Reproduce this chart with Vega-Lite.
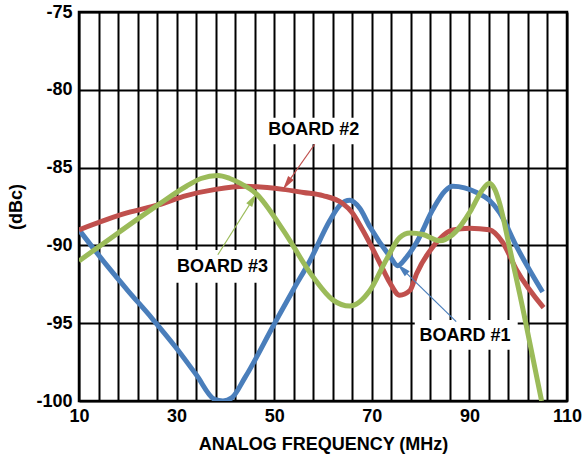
{
  "$schema": "https://vega.github.io/schema/vega-lite/v6.json",
  "width": 488,
  "height": 389,
  "autosize": "none",
  "padding": {"left": 79, "top": 12, "right": 20, "bottom": 61},
  "background": "white",
  "config": {
    "view": {"stroke": "black", "strokeWidth": 2.5},
    "font": "Liberation Sans",
    "axis": {
      "domain": false,
      "ticks": false,
      "grid": true,
      "gridColor": "black",
      "gridOpacity": 1,
      "gridWidth": 2,
      "labelFont": "Liberation Sans",
      "labelFontWeight": "bold",
      "labelFontSize": 18,
      "labelColor": "black",
      "titleFont": "Liberation Sans",
      "titleFontWeight": "bold",
      "titleFontSize": 18,
      "titleColor": "black"
    }
  },
  "datasets": {
    "curves": [
      {"board": "BOARD #1", "f": 10, "v": -89.0},
      {"board": "BOARD #1", "f": 16, "v": -91.4},
      {"board": "BOARD #1", "f": 20, "v": -92.9},
      {"board": "BOARD #1", "f": 25, "v": -94.7},
      {"board": "BOARD #1", "f": 29.7, "v": -96.5},
      {"board": "BOARD #1", "f": 34, "v": -98.3},
      {"board": "BOARD #1", "f": 37.8, "v": -99.9},
      {"board": "BOARD #1", "f": 39.5, "v": -100.0},
      {"board": "BOARD #1", "f": 41.3, "v": -99.8},
      {"board": "BOARD #1", "f": 44, "v": -98.5},
      {"board": "BOARD #1", "f": 50.1, "v": -95.0},
      {"board": "BOARD #1", "f": 54, "v": -92.8},
      {"board": "BOARD #1", "f": 57.3, "v": -91.0},
      {"board": "BOARD #1", "f": 61.4, "v": -88.4},
      {"board": "BOARD #1", "f": 63.5, "v": -87.4},
      {"board": "BOARD #1", "f": 65.5, "v": -87.1},
      {"board": "BOARD #1", "f": 67.5, "v": -87.6},
      {"board": "BOARD #1", "f": 69.6, "v": -88.8},
      {"board": "BOARD #1", "f": 73.7, "v": -90.7},
      {"board": "BOARD #1", "f": 75.3, "v": -91.3},
      {"board": "BOARD #1", "f": 77, "v": -90.8},
      {"board": "BOARD #1", "f": 79.2, "v": -89.8},
      {"board": "BOARD #1", "f": 82.5, "v": -87.7},
      {"board": "BOARD #1", "f": 85, "v": -86.5},
      {"board": "BOARD #1", "f": 86.6, "v": -86.2},
      {"board": "BOARD #1", "f": 89, "v": -86.3},
      {"board": "BOARD #1", "f": 91.5, "v": -86.6},
      {"board": "BOARD #1", "f": 94.1, "v": -87.1},
      {"board": "BOARD #1", "f": 96.2, "v": -87.9},
      {"board": "BOARD #1", "f": 99.7, "v": -90.1},
      {"board": "BOARD #1", "f": 105, "v": -93.0},
      {"board": "BOARD #2", "f": 10, "v": -89.0},
      {"board": "BOARD #2", "f": 20, "v": -87.9},
      {"board": "BOARD #2", "f": 26.2, "v": -87.4},
      {"board": "BOARD #2", "f": 32, "v": -86.8},
      {"board": "BOARD #2", "f": 38, "v": -86.4},
      {"board": "BOARD #2", "f": 44, "v": -86.2},
      {"board": "BOARD #2", "f": 51.8, "v": -86.4},
      {"board": "BOARD #2", "f": 56, "v": -86.6},
      {"board": "BOARD #2", "f": 60, "v": -86.8},
      {"board": "BOARD #2", "f": 64, "v": -87.3},
      {"board": "BOARD #2", "f": 66, "v": -87.9},
      {"board": "BOARD #2", "f": 68.1, "v": -89.0},
      {"board": "BOARD #2", "f": 71.6, "v": -91.1},
      {"board": "BOARD #2", "f": 73.7, "v": -92.4},
      {"board": "BOARD #2", "f": 75.7, "v": -93.2},
      {"board": "BOARD #2", "f": 77.8, "v": -92.9},
      {"board": "BOARD #2", "f": 79.2, "v": -91.8},
      {"board": "BOARD #2", "f": 82.5, "v": -90.1},
      {"board": "BOARD #2", "f": 86.6, "v": -89.0},
      {"board": "BOARD #2", "f": 90, "v": -88.9},
      {"board": "BOARD #2", "f": 94.1, "v": -89.0},
      {"board": "BOARD #2", "f": 96.8, "v": -89.8},
      {"board": "BOARD #2", "f": 99.7, "v": -91.6},
      {"board": "BOARD #2", "f": 105.2, "v": -94.0},
      {"board": "BOARD #3", "f": 10, "v": -91.0},
      {"board": "BOARD #3", "f": 18, "v": -89.2},
      {"board": "BOARD #3", "f": 26.2, "v": -87.4},
      {"board": "BOARD #3", "f": 32, "v": -86.2},
      {"board": "BOARD #3", "f": 35, "v": -85.7},
      {"board": "BOARD #3", "f": 38.5, "v": -85.5},
      {"board": "BOARD #3", "f": 40.9, "v": -85.7},
      {"board": "BOARD #3", "f": 43, "v": -86.0},
      {"board": "BOARD #3", "f": 46.4, "v": -86.7},
      {"board": "BOARD #3", "f": 51.8, "v": -89.0},
      {"board": "BOARD #3", "f": 57.9, "v": -92.0},
      {"board": "BOARD #3", "f": 62, "v": -93.5},
      {"board": "BOARD #3", "f": 65.5, "v": -93.9},
      {"board": "BOARD #3", "f": 69.6, "v": -92.9},
      {"board": "BOARD #3", "f": 73, "v": -90.9},
      {"board": "BOARD #3", "f": 75.7, "v": -89.5},
      {"board": "BOARD #3", "f": 77.8, "v": -89.2},
      {"board": "BOARD #3", "f": 80.5, "v": -89.3},
      {"board": "BOARD #3", "f": 83.9, "v": -89.7},
      {"board": "BOARD #3", "f": 86.6, "v": -89.3},
      {"board": "BOARD #3", "f": 90.4, "v": -87.7},
      {"board": "BOARD #3", "f": 92.5, "v": -86.5},
      {"board": "BOARD #3", "f": 94.1, "v": -86.0},
      {"board": "BOARD #3", "f": 95.2, "v": -86.4},
      {"board": "BOARD #3", "f": 96.2, "v": -87.3},
      {"board": "BOARD #3", "f": 98.2, "v": -90.1},
      {"board": "BOARD #3", "f": 100.3, "v": -93.1},
      {"board": "BOARD #3", "f": 101.3, "v": -94.6},
      {"board": "BOARD #3", "f": 104.8, "v": -100.0}
    ],
    "boxes": [
      {"x1": 46.6, "x2": 69.2, "y1": -81.8, "y2": -83.5},
      {"x1": 28.6, "x2": 49.5, "y1": -90.3, "y2": -92.4},
      {"x1": 78.8, "x2": 99.9, "y1": -94.8, "y2": -96.7}
    ],
    "labels": [
      {"text": "BOARD #2", "f": 58.1, "v": -82.6},
      {"text": "BOARD #3", "f": 39.4, "v": -91.4},
      {"text": "BOARD #1", "f": 89.1, "v": -95.8}
    ]
  },
  "layer": [
    {
      "data": {"name": "boxes"},
      "mark": {"type": "rect", "fill": "white", "stroke": null},
      "encoding": {
        "x": {"field": "x1", "type": "quantitative", "scale": {"domain": [10, 110], "nice": false, "zero": false},
          "axis": {
            "values": [10, 14, 18, 22, 26, 30, 34, 38, 42, 46, 50, 54, 58, 62, 66, 70, 74, 78, 82, 86, 90, 94, 98, 102, 106, 110],
            "tickCount": 40,
            "labelExpr": "(datum.value - 10) % 20 == 0 ? ('' + datum.value) : ''",
            "title": "ANALOG FREQUENCY (MHz)",
            "labelPadding": 6,
            "labelDx": 3,
            "labelFlush": false,
            "labelOverlap": false,
            "titlePadding": 10
          }},
        "x2": {"field": "x2"},
        "y": {"field": "y1", "type": "quantitative", "scale": {"domain": [-100, -75], "nice": false, "zero": false},
          "axis": {
            "values": [-100, -95, -90, -85, -80, -75],
            "tickCount": 10,
            "labelExpr": "'' + datum.value",
            "title": "(dBc)",
            "labelPadding": 7,
            "labelDy": 2,
            "titlePadding": 10
          }},
        "y2": {"field": "y2"}
      }
    },
    {
      "data": {"name": "curves"},
      "mark": {"type": "line", "interpolate": "monotone", "strokeWidth": 5, "strokeCap": "butt", "clip": true},
      "encoding": {
        "x": {"field": "f", "type": "quantitative"},
        "y": {"field": "v", "type": "quantitative"},
        "color": {"field": "board", "type": "nominal",
          "scale": {"domain": ["BOARD #1", "BOARD #2", "BOARD #3"], "range": ["#4a7ebb", "#c0504d", "#9bbb59"]},
          "legend": null},
        "order": {"field": "f", "type": "quantitative"}
      }
    },
    {
      "data": {"values": [{"x1": 58.3, "y1": -83.5, "x2": 51.8, "y2": -86.4}]},
      "mark": {"type": "rule", "color": "#c0504d", "strokeWidth": 1.2},
      "encoding": {"x": {"field": "x1", "type": "quantitative"}, "y": {"field": "y1", "type": "quantitative"}, "x2": {"field": "x2"}, "y2": {"field": "y2"}}
    },
    {
      "data": {"values": [{"x": 51.8, "y": -86.4}]},
      "mark": {"type": "point", "shape": "M0,0L-0.5,2L0.5,2Z", "filled": true, "color": "#c0504d", "opacity": 1, "size": 196, "angle": 215},
      "encoding": {"x": {"field": "x", "type": "quantitative"}, "y": {"field": "y", "type": "quantitative"}}
    },
    {
      "data": {"values": [{"x1": 38.45, "y1": -90.6, "x2": 46.4, "y2": -86.65}]},
      "mark": {"type": "rule", "color": "#9bbb59", "strokeWidth": 1.2},
      "encoding": {"x": {"field": "x1", "type": "quantitative"}, "y": {"field": "y1", "type": "quantitative"}, "x2": {"field": "x2"}, "y2": {"field": "y2"}}
    },
    {
      "data": {"values": [{"x": 46.4, "y": -86.65}]},
      "mark": {"type": "point", "shape": "M0,0L-0.5,2L0.5,2Z", "filled": true, "color": "#9bbb59", "opacity": 1, "size": 196, "angle": 32},
      "encoding": {"x": {"field": "x", "type": "quantitative"}, "y": {"field": "y", "type": "quantitative"}}
    },
    {
      "data": {"values": [{"x1": 87.3, "y1": -94.9, "x2": 75.2, "y2": -91.2}]},
      "mark": {"type": "rule", "color": "#4a7ebb", "strokeWidth": 1.2},
      "encoding": {"x": {"field": "x1", "type": "quantitative"}, "y": {"field": "y1", "type": "quantitative"}, "x2": {"field": "x2"}, "y2": {"field": "y2"}}
    },
    {
      "data": {"values": [{"x": 75.2, "y": -91.2}]},
      "mark": {"type": "point", "shape": "M0,0L-0.5,2L0.5,2Z", "filled": true, "color": "#4a7ebb", "opacity": 1, "size": 196, "angle": 314},
      "encoding": {"x": {"field": "x", "type": "quantitative"}, "y": {"field": "y", "type": "quantitative"}}
    },
    {
      "data": {"name": "labels"},
      "mark": {"type": "text", "font": "Liberation Sans", "fontWeight": "bold", "fontSize": 18, "color": "black", "align": "center", "baseline": "middle"},
      "encoding": {
        "x": {"field": "f", "type": "quantitative"},
        "y": {"field": "v", "type": "quantitative"},
        "text": {"field": "text"}
      }
    }
  ]
}
